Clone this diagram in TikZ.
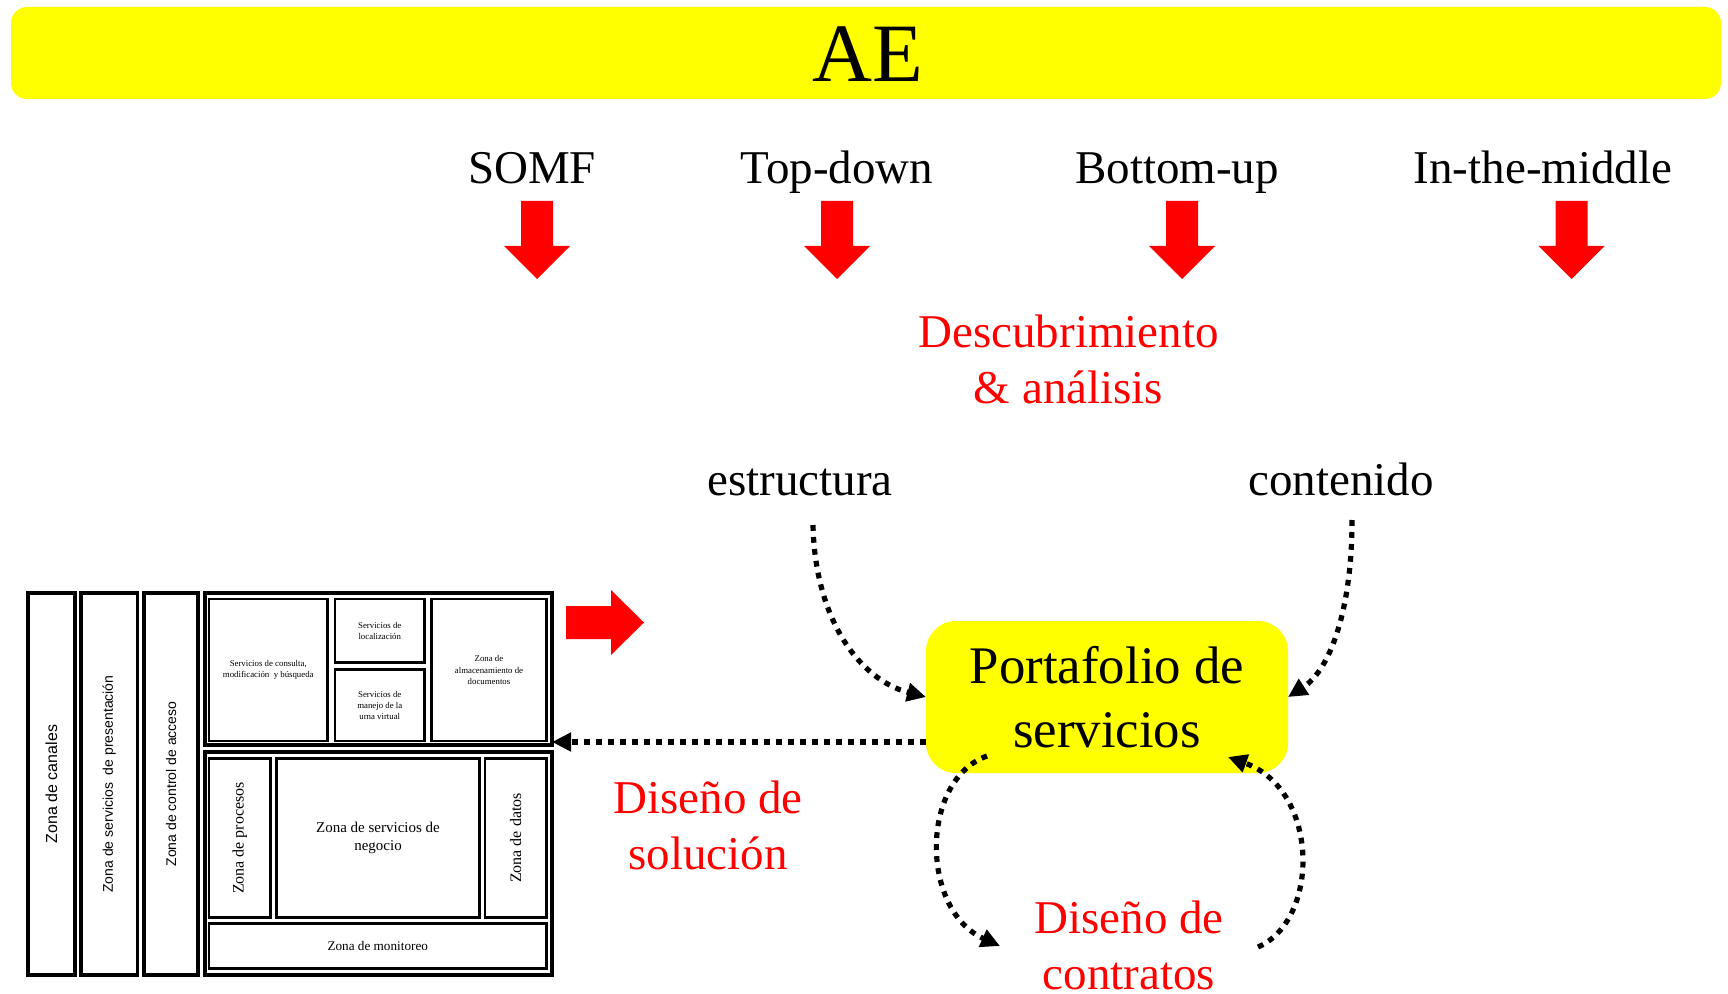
\documentclass[tikz,border=0pt]{standalone}
\usepackage{fontspec}
\setmainfont{Liberation Serif}
\newfontfamily\arialf{Liberation Sans}
\usetikzlibrary{arrows.meta}
\definecolor{aeyellow}{RGB}{255,255,0}
\definecolor{aered}{RGB}{255,0,0}
\newcommand\zbox[7]{% style, name, x1, y1, x2, y2, text
  \node[#1, minimum width={(#5-#3)*0.5pt}, minimum height={(#6-#4)*0.5pt}] (#2) at ({(#3+#5)/2},{(#4+#6)/2}) {#7};}
\begin{document}
\begin{tikzpicture}[x=0.5pt,y=-0.5pt,
  lbl/.style={font=\fontsize{23.5}{28}\selectfont, inner sep=0pt, anchor=base},
  redlbl/.style={font=\fontsize{23.5}{28}\selectfont, text=aered, align=center, inner sep=0pt},
  dotconn/.style={line width=2.6pt, dash pattern=on 2.9pt off 3.1pt, -{Triangle[length=9.5pt,width=9pt]}},
  zcol/.style={draw, line width=1.75pt, inner sep=0pt, outer sep=0pt},
  zcont/.style={draw, line width=2pt, inner sep=0pt, outer sep=0pt},
  zcell/.style={draw, line width=1.4pt, inner sep=0pt, outer sep=0pt, align=center},
  tinytxt/.style={font=\fontsize{4.4}{5.6}\selectfont},
  rotsans/.style={rotate=90, inner sep=0pt},
  downarr/.pic={\fill[aered] (-16,0) -- (16,0) -- (16,45) -- (33,45) -- (0,78) -- (-33,45) -- (-16,45) -- cycle;}
]
\useasboundingbox (0,0) rectangle (1728,994);

% top bar
\node[fill=aeyellow, rounded corners=8pt, inner sep=0pt,
      minimum width={(1721-11)*0.5pt}, minimum height={(99-7)*0.5pt}] (bar) at (866,53) {};
\node[font=\fontsize{41.5}{44}\selectfont, anchor=base, inner sep=0pt] (ae) at (867.5,82) {AE};

% approaches
\node[lbl] (somf) at (532,184) {SOMF};
\node[lbl] (td) at (837,184) {Top-down};
\node[lbl] (bu) at (1177,184) {Bottom-up};
\node[lbl] (itm) at (1543,184) {In-the-middle};
\pic (a1) at (537,201) {downarr};
\pic (a2) at (837,201) {downarr};
\pic (a3) at (1182,201) {downarr};
\pic (a4) at (1571.5,201) {downarr};

\node[redlbl] (desc) at (1068.5,359) {Descubrimiento\\\& análisis};
\node[lbl] (estr) at (800,495) {estructura};
\node[lbl] (cont) at (1341,495) {contenido};

% portfolio
\node[fill=aeyellow, rounded corners=15pt, inner sep=0pt, outer sep=0pt,
      minimum width=181pt, minimum height=76pt, align=center,
      font=\fontsize{26.4}{32}\selectfont] (port) at (1107,697) {Portafolio de\\servicios};

\node[redlbl] (dsol) at (708,825.5) {Diseño de\\solución};
\node[redlbl] (dcon) at (1129,945.5) {Diseño de\\contratos};

% left block
\zbox{zcol}{zc}{27.8}{593}{74.8}{975}{}
\zbox{zcol}{zp}{81}{593}{137.5}{975}{}
\zbox{zcol}{za}{144}{593}{198}{975}{}
\node[rotsans, font=\arialf\fontsize{8}{9}\selectfont] (zct) at (zc) {Zona de canales};
\node[rotsans, font=\arialf\fontsize{7}{8}\selectfont] (zpt) at (zp) {Zona de servicios\ \ de presentación};
\node[rotsans, font=\arialf\fontsize{7}{8}\selectfont] (zat) at (za) {Zona de control de acceso};

\zbox{zcont}{up}{205}{593}{552}{745}{}
\zbox{zcont}{lo}{205}{752}{552}{975}{}

\zbox{zcell,tinytxt}{ca}{209}{599}{327.5}{741}{Servicios de consulta,\\modificación\ \ y búsqueda}
\zbox{zcell,tinytxt}{cb}{335}{599}{424.5}{662.5}{Servicios de\\localización}
\zbox{zcell,tinytxt}{cc}{335}{669.5}{424.5}{741}{Servicios de\\manejo de la\\urna virtual}
\zbox{zcell,tinytxt}{cd}{431.5}{599}{546.5}{741}{Zona de\\almacenamiento de\\documentos}

\zbox{zcell}{cp}{209}{758.5}{270.5}{917.5}{}
\zbox{zcell,font=\fontsize{7.5}{9}\selectfont}{cn}{276.5}{758.5}{479.5}{917.5}{Zona de servicios de\\negocio}
\zbox{zcell}{cdt}{485}{758.5}{546.5}{917.5}{}
\zbox{zcell,font=\fontsize{6.6}{8}\selectfont}{cm}{209}{923.5}{546.5}{968.5}{Zona de monitoreo}
\node[rotsans, font=\fontsize{8}{9}\selectfont] (cpt) at (cp) {Zona de procesos};
\node[rotsans, font=\fontsize{8}{9}\selectfont] (cdtt) at (cdt) {Zona de datos};

% red right arrow
\fill[aered] (566,606) -- (611,606) -- (611,590) -- (644,622.5) -- (611,655) -- (611,639) -- (566,639) -- cycle;

% connectors
\coordinate (s1) at (813,525);
\coordinate (s2) at (1352,520);
\coordinate (s3) at (926,742);
\coordinate (s4) at (987,756);
\coordinate (e4) at (1000,946);
\coordinate (s5) at (1258,947);
\coordinate (e5) at (1228,757);
\draw[dotconn] (s1) .. controls (815,620) and (860,680) .. (port.west);
\draw[dotconn] (s2) .. controls (1352,610) and (1330,670) .. (port.east);
\draw[dotconn] (s3) -- (up.east |- s3);
\draw[dotconn] (s4) .. controls (920,780) and (920,910) .. (e4);
\draw[dotconn] (s5) .. controls (1320,920) and (1320,790) .. (e5);
\end{tikzpicture}
\end{document}
